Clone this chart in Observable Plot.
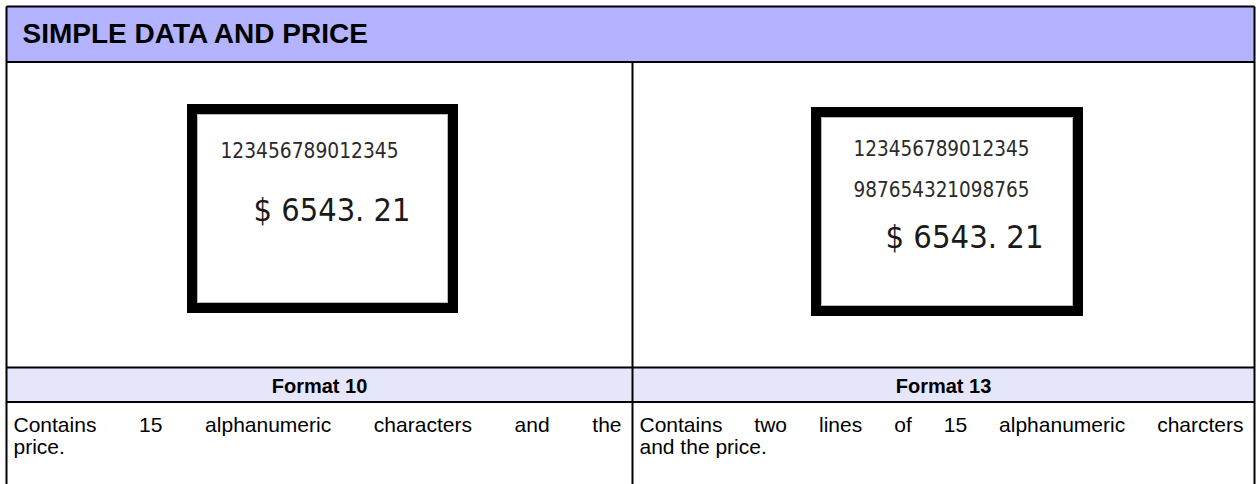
<!DOCTYPE html>
<html><head><meta charset="utf-8">
<script src="https://cdn.jsdelivr.net/npm/d3@7"></script>
<script src="https://cdn.jsdelivr.net/npm/@observablehq/plot@0.6"></script>
<style>html,body{margin:0;padding:0;background:#fff;overflow:hidden}</style>
</head><body><div id="chart"></div>
<script>
// ---- content ----
const title = "SIMPLE DATA AND PRICE";
const formats = ["Format 10", "Format 13"];
const descriptionLines = [
  ["Contains 15 alphanumeric characters and the", "price."],
  ["Contains two lines of 15 alphanumeric charcters", "and the price."]
];
const labelLines = [["123456789012345"], ["123456789012345", "987654321098765"]];
const labelPrices = ["$ 6543. 21", "$ 6543. 21"];

// ---- layout ----
const W = 1256, H = 484;
const L = {left: 6, right: 1254, top: 6, headBottom: 61.5, mid: 632, fmtTop: 367, fmtBottom: 401.5};
const cols = formats.map((f, i) => ({format: f, i, x1: i ? L.mid : L.left, x2: i ? L.right : L.mid}));
const boxGeo = [
  {x: 187, y: 104, w: 271, h: 209, lineX: 33, lineB: [53], lineW: 178, priceX: 66, priceB: 116, priceW: 157},
  {x: 811, y: 107, w: 272, h: 209, lineX: 42, lineB: [48, 89], lineW: 176, priceX: 74, priceB: 140, priceW: 158}
];
const BT = 10;

const cells = [
  {x1: L.left, x2: L.right, y1: L.top, y2: L.headBottom, fill: "#b3b3ff"},
  {x1: L.left, x2: L.right, y1: L.fmtTop, y2: L.fmtBottom, fill: "#e6e6fb"}
];
const lines = [
  {x1: L.left, y1: L.top, x2: L.right, y2: L.top},
  {x1: L.left, y1: L.headBottom, x2: L.right, y2: L.headBottom},
  {x1: L.left, y1: L.fmtTop, x2: L.right, y2: L.fmtTop},
  {x1: L.left, y1: L.fmtBottom, x2: L.right, y2: L.fmtBottom},
  {x1: L.left, y1: L.top, x2: L.left, y2: H},
  {x1: L.right, y1: L.top, x2: L.right, y2: H},
  {x1: L.mid, y1: L.headBottom, x2: L.mid, y2: H}
];
const boxes = boxGeo.map(g => ({x1: g.x + BT / 2, x2: g.x + g.w - BT / 2, y1: g.y + BT / 2, y2: g.y + g.h - BT / 2}));
const innerBoxes = boxGeo.map(g => ({x1: g.x + BT + 0.5, x2: g.x + g.w - BT - 0.5, y1: g.y + BT + 0.5, y2: g.y + g.h - BT - 0.5}));
const fitItems = [];
cols.forEach((c, i) => {
  const g = boxGeo[i];
  labelLines[i].forEach((t, j) => fitItems.push({text: t, x: g.x + g.lineX, y: g.y + g.lineB[j], w: g.lineW}));
});
const priceItems = cols.map((c, i) => {
  const g = boxGeo[i];
  return {text: labelPrices[i], x: g.x + g.priceX, y: g.y + g.priceB, w: g.priceW};
});
const fmtItems = cols.map(c => ({text: c.format, x: (c.x1 + c.x2) / 2, y: 392}));
const justifyItems = [], plainItems = [];
cols.forEach((c, i) => {
  descriptionLines[i].forEach((t, j) => {
    const it = {text: t, x: c.x1 + 7, y: 431 + j * 22, w: (c.x2 - c.x1) - 18};
    (j < descriptionLines[i].length - 1 ? justifyItems : plainItems).push(it);
  });
});

const FONT = "Liberation Sans, Arial, Helvetica, sans-serif";
const LABELFONT = "Liberation Sans Narrow, DejaVu Sans Condensed, Liberation Sans, sans-serif";

const plot = Plot.plot({
  width: W, height: H, margin: 0,
  x: {type: "identity", axis: null}, y: {type: "identity", axis: null},
  style: {background: "#fff"},
  marks: [
    Plot.rect(cells, {x1: "x1", x2: "x2", y1: "y1", y2: "y2", fill: d => d.fill}),
    Plot.link(lines, {x1: "x1", y1: "y1", x2: "x2", y2: "y2", stroke: "#000", strokeWidth: 2}),
    Plot.rect(boxes, {x1: "x1", x2: "x2", y1: "y1", y2: "y2", fill: "#fff", stroke: "#000", strokeWidth: BT}),
    Plot.rect(innerBoxes, {x1: "x1", x2: "x2", y1: "y1", y2: "y2", fill: "none", stroke: "#bbb", strokeWidth: 1}),
    Plot.text([title], {x: 22, y: 42, text: d => d, textAnchor: "start", lineAnchor: "bottom", fontSize: 28, fontWeight: "bold", fontFamily: FONT, fill: "#000"}),
    Plot.text(fmtItems, {x: "x", y: "y", text: "text", textAnchor: "middle", lineAnchor: "bottom", fontSize: 20, fontWeight: "bold", fontFamily: FONT, fill: "#000"}),
    Plot.text(justifyItems, {x: "x", y: "y", text: "text", textAnchor: "start", lineAnchor: "bottom", fontSize: 21, fontFamily: FONT, fill: "#000", ariaDescription: "justify"}),
    Plot.text(plainItems, {x: "x", y: "y", text: "text", textAnchor: "start", lineAnchor: "bottom", fontSize: 21, fontFamily: FONT, fill: "#000"}),
    Plot.text(fitItems, {x: "x", y: "y", text: "text", textAnchor: "start", lineAnchor: "bottom", fontSize: 21, fontFamily: LABELFONT, fill: "#2a2a2a", ariaDescription: "fit"}),
    Plot.text(priceItems, {x: "x", y: "y", text: "text", textAnchor: "start", lineAnchor: "bottom", fontSize: 32, fontFamily: LABELFONT, fill: "#1a1a1a", ariaDescription: "fitprice"})
  ]
});
document.getElementById("chart").append(plot);

const sel = d3.select(plot);
// justify the full lines by widening word gaps
sel.selectAll('g[aria-description="justify"] text').each(function(_, k) {
  const it = justifyItems[k];
  const len = this.getComputedTextLength();
  const spaces = (it.text.match(/ /g) || []).length;
  if (spaces) this.style.wordSpacing = ((it.w - len) / spaces) + "px";
});
sel.selectAll('g[aria-description="fit"] text').each(function(_, k) {
  this.setAttribute("textLength", fitItems[k].w);
  this.setAttribute("lengthAdjust", "spacingAndGlyphs");
});
sel.selectAll('g[aria-description="fitprice"] text').each(function(_, k) {
  this.setAttribute("textLength", priceItems[k].w);
  this.setAttribute("lengthAdjust", "spacingAndGlyphs");
});
</script>
</body></html>
